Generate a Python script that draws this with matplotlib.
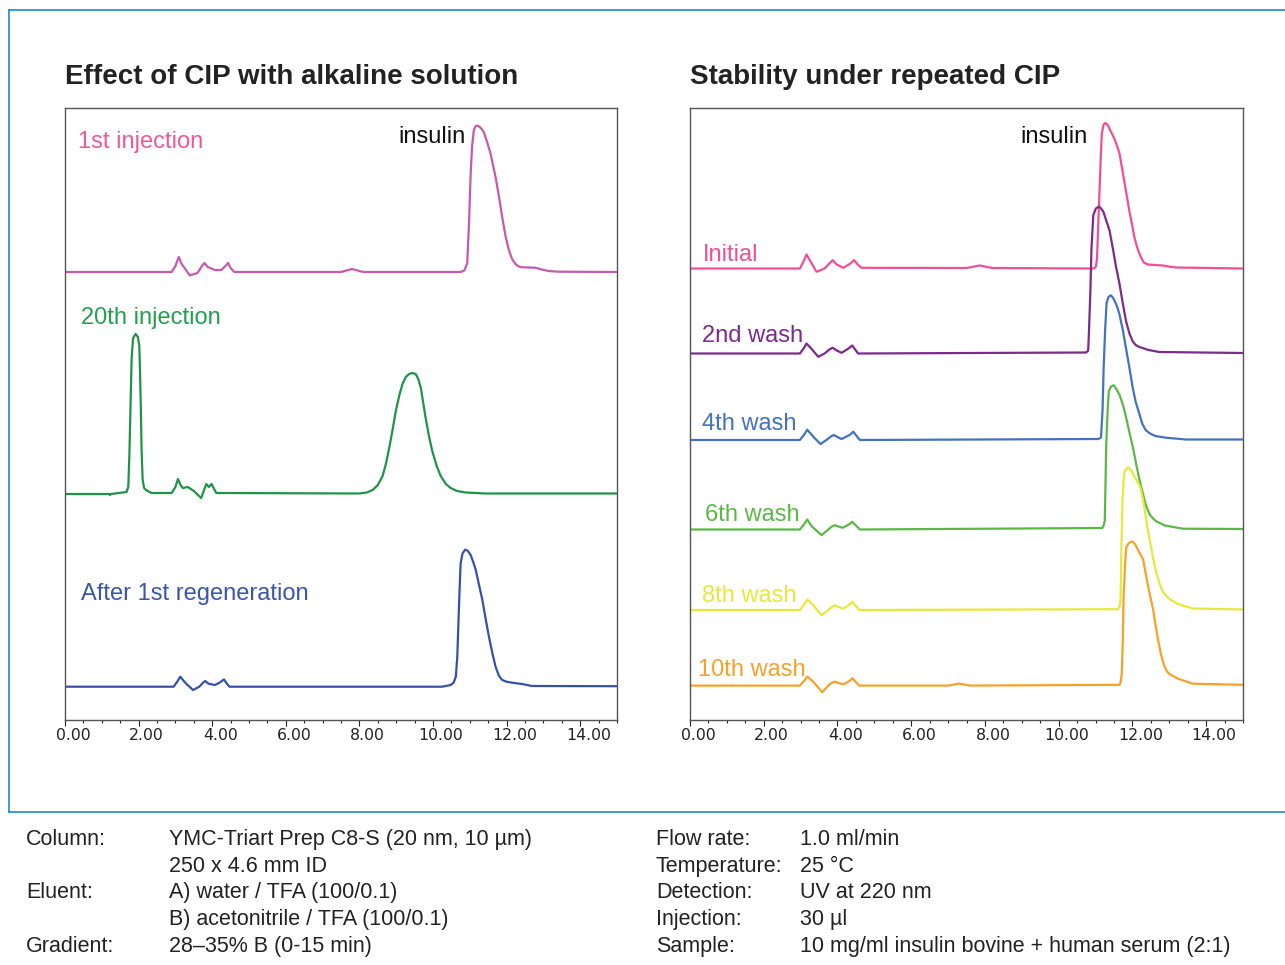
import matplotlib
matplotlib.use("Agg")
import matplotlib.pyplot as plt
from matplotlib.lines import Line2D
from matplotlib.ticker import MultipleLocator, FormatStrFormatter
from matplotlib.transforms import ScaledTranslation

W, H = 1285, 965

# ---- data: retention time (min) / signal above own baseline ----
# left panel: Effect of CIP with alkaline solution
inj1_t = [0, 2.9, 3.0, 3.09, 3.17, 3.25, 3.39, 3.6, 3.72, 3.79, 3.88, 4.07, 4.25, 4.36,
          4.43, 4.5, 4.6, 7.5, 7.8, 8.1,
          10.75, 10.85, 10.93, 10.98, 11.02, 11.06, 11.11, 11.16, 11.22, 11.30, 11.38,
          11.47, 11.56, 11.63, 11.70, 11.79, 11.88, 11.97, 12.06, 12.15, 12.24, 12.33,
          12.42, 12.6, 12.78, 12.95, 13.14, 13.4, 15.0]
inj1_y = [0, 0, 6, 15, 8, 4, -3.4, -1, 6, 9, 5, 2, 2, 6,
          9, 4, 0, 0, 3, 0,
          0, 1.5, 8.7, 50, 95, 125, 142, 146, 146.3, 144, 140,
          130, 119, 107, 95, 76, 55, 36, 22, 13, 8, 5.5,
          4.7, 4.5, 4.3, 2.5, 1, 0.3, 0]

inj20_t = [0, 1.2, 1.22, 1.25, 1.67, 1.72, 1.75, 1.78, 1.81, 1.85, 1.92, 1.98, 2.02,
           2.04, 2.06, 2.08, 2.11, 2.15, 2.20, 2.35, 2.9, 3.0, 3.07, 3.14, 3.2, 3.34,
           3.5, 3.7, 3.77, 3.84, 3.91, 3.98, 4.11, 7.99, 8.2, 8.36, 8.5, 8.63, 8.72,
           8.81, 8.90, 8.99, 9.08, 9.17, 9.26, 9.35, 9.44, 9.53, 9.60, 9.67, 9.73,
           9.80, 9.89, 9.98, 10.1, 10.21, 10.35, 10.48, 10.65, 10.89, 11.43, 15.0]
inj20_y = [0, 0, -1, 0, 2, 7, 40, 87, 135, 156, 160, 157, 148,
           120, 87, 45, 14, 6, 4, 1, 1, 7, 15, 9, 6, 7,
           3, -4, 3, 10, 7, 10, 1, 0.5, 1.5, 4, 9, 18, 30,
           46, 64, 83, 98, 110, 117, 120, 121, 120, 115, 106, 92,
           76, 58, 43, 28, 18, 10, 6, 3, 1.5, 0.5, 0.5]

regen_t = [0, 2.95, 3.05, 3.13, 3.22, 3.30, 3.48, 3.65, 3.75, 3.81, 3.9, 4.07, 4.2,
           4.32, 4.4, 4.47, 10.25, 10.48, 10.56, 10.62, 10.66, 10.69, 10.72, 10.75,
           10.80, 10.87, 10.94, 11.02, 11.09, 11.16, 11.25, 11.34, 11.43, 11.52, 11.61,
           11.70, 11.79, 11.88, 12.0, 12.15, 12.42, 12.69, 15.0]
regen_y = [0, 0, 5, 10, 6, 2.7, -3.3, 0, 4, 5.7, 3, 1.7, 4,
           7.3, 3, 0, 0, 1.7, 4, 10, 30, 63, 95, 123,
           133, 137, 136, 132, 125, 117, 102, 87, 68, 50, 34,
           20, 11, 6.7, 5, 4, 2.7, 0.7, 0.5]

# right panel: Stability under repeated CIP
initial_t = [0, 2.98, 3.08, 3.16, 3.27, 3.43, 3.65, 3.78, 3.87, 3.98, 4.16, 4.35, 4.45,
             4.55, 4.65, 7.5, 7.86, 8.2,
             10.96, 11.01, 11.04, 11.09, 11.14, 11.17, 11.22, 11.27, 11.34, 11.40, 11.47,
             11.53, 11.59, 11.65, 11.72, 11.79, 11.86, 11.92, 11.99, 12.05, 12.12, 12.19,
             12.25, 12.31, 12.42, 12.62, 12.83, 13.01, 13.19, 15.0]
initial_y = [0, 0, 7, 14, 7, -3.3, 0, 5, 8.3, 4, 0.7, 5, 8.3,
             4, 0.7, 0.5, 3, 0.5,
             0, 2, 10, 60, 110, 135, 144, 145.5, 143, 138, 133,
             128, 122, 115, 100, 85, 70, 57, 44, 32, 22, 15,
             10, 6, 4, 3.5, 3, 1.8, 1, 0]

wash2_t = [0, 2.98, 3.08, 3.16, 3.27, 3.48, 3.65, 3.78, 3.87, 3.98, 4.11, 4.30, 4.40,
           4.48, 4.56, 10.74, 10.80, 10.82, 10.86, 10.89, 10.94, 11.01, 11.09, 11.15,
           11.21, 11.29, 11.38, 11.47, 11.55, 11.65, 11.74, 11.83, 11.92, 12.01, 12.09,
           12.19, 12.44, 12.73, 15.0]
wash2_y = [0, 0, 5, 10, 5.7, -3.3, 0, 4, 5.7, 3, 0.7, 5, 8,
           4, 0, 1, 2.7, 20, 62, 105, 138.5, 145, 147, 145,
           142, 133, 123, 105, 88, 69.6, 50, 32, 19.9, 12, 8.5,
           6.5, 3.5, 1.5, 0.5]

wash4_t = [0, 2.98, 3.09, 3.18, 3.36, 3.54, 3.7, 3.82, 3.90, 4.0, 4.11, 4.33, 4.43,
           4.52, 4.61, 11.07, 11.13, 11.15, 11.19, 11.22, 11.26, 11.30, 11.35, 11.41,
           11.47, 11.52, 11.59, 11.65, 11.74, 11.83, 11.92, 12.01, 12.09, 12.19, 12.27,
           12.36, 12.46, 12.62, 12.91, 13.45, 15.0]
wash4_y = [0, 0, 5, 10.3, 2.7, -4, 0, 3.5, 5, 3, 1, 5, 8.3,
           4, 0, 1, 2, 3, 30, 72, 110, 137, 143, 144.7,
           142.5, 139, 133, 125.5, 110, 91, 72, 52, 38, 26, 16,
           10, 6.9, 4, 2.3, 0.5, 0.5]

wash6_t = [0, 2.98, 3.09, 3.18, 3.30, 3.57, 3.75, 3.85, 3.93, 4.03, 4.14, 4.31, 4.40,
           4.5, 4.61, 11.18, 11.22, 11.25, 11.27, 11.29, 11.33, 11.36, 11.42, 11.49,
           11.57, 11.65, 11.75, 11.83, 11.92, 12.02, 12.10, 12.19, 12.29, 12.37, 12.47,
           12.56, 12.64, 12.88, 13.37, 15.0]
wash6_y = [0, 0, 5, 10, 3.3, -5.7, 0, 3, 4.3, 3, 1.7, 5, 7.7,
           4, 0, 1.5, 4, 8.4, 45, 85, 120, 138.6, 143, 144.3,
           140, 134.7, 124, 111.8, 97, 81, 65.8, 50, 35, 23.7, 15,
           11, 8.4, 4, 0.8, 0.5]

wash8_t = [0, 2.98, 3.09, 3.19, 3.36, 3.57, 3.75, 3.85, 3.93, 4.03, 4.16, 4.31, 4.40,
           4.5, 4.59, 11.61, 11.66, 11.68, 11.70, 11.73, 11.76, 11.79, 11.84, 11.89,
           11.98, 12.06, 12.14, 12.21, 12.29, 12.36, 12.43, 12.51, 12.58, 12.66, 12.75,
           12.83, 12.92, 13.02, 13.23, 13.65, 15.0]
wash8_y = [0, 0, 5, 10.7, 4, -5.3, 0, 3, 4.7, 3, 1.3, 5, 8.3,
           4, 0, 0.8, 4, 12, 60, 108, 130, 138.6, 141.5, 142.4,
           139, 133, 128, 123.4, 110, 94, 77.5, 62, 48, 35.6, 25,
           18, 14, 10.7, 6, 1.5, 0.5]

wash10_t = [0, 2.98, 3.09, 3.18, 3.34, 3.59, 3.75, 3.85, 3.93, 4.03, 4.16, 4.32, 4.41,
            4.5, 4.59, 7.0, 7.3, 7.6, 11.65, 11.68, 11.71, 11.74, 11.76, 11.80, 11.83,
            11.90, 12.00, 12.08, 12.15, 12.22, 12.29, 12.37, 12.46, 12.56, 12.63, 12.70,
            12.78, 12.86, 12.94, 13.01, 13.23, 13.64, 15.0]
wash10_y = [0, 0, 4.5, 9, 4, -6.7, 0, 3, 4, 2.5, 1.3, 4.5, 7.3,
            3.5, 0, 0, 2, 0, 0.8, 3, 11.5, 45, 88, 120, 137.8,
            142.5, 144.2, 141, 135.8, 131, 126.3, 110, 93, 76.5, 60, 45,
            30.6, 20, 14, 11.5, 7, 1.9, 0.8]

xticks = [0, 2, 4, 6, 8, 10, 12, 14]

left_traces = [
    ("1st injection", inj1_t, inj1_y, "#c65aab", "#ec5a9c", 448),
    ("20th injection", inj20_t, inj20_y, "#1f9448", "#23a04d", 226),
    ("After 1st regeneration", regen_t, regen_y, "#3652a8", "#3a56a8", 33.3),
]
right_traces = [
    ("Initial", initial_t, initial_y, "#ee4f98", 451.5),
    ("2nd wash", wash2_t, wash2_y, "#7c2a8c", 366.5),
    ("4th wash", wash4_t, wash4_y, "#4272c0", 280),
    ("6th wash", wash6_t, wash6_y, "#5bb846", 190.5),
    ("8th wash", wash8_t, wash8_y, "#e8e83c", 110),
    ("10th wash", wash10_t, wash10_y, "#f7a12a", 34.4),
]
# label anchors (left x in min, y centre in axes px)
left_label_pos = [(0.35, 578), (0.43, 402), (0.43, 126)]
right_label_pos = [(0.35, 465), (0.33, 384), (0.33, 296), (0.41, 205), (0.33, 124), (0.22, 50)]

plt.rcParams['font.family'] = ['Liberation Sans', 'DejaVu Sans']

fig = plt.figure(figsize=(W / 100, H / 100), dpi=100)


def make_axes(x0, x1):
    ax = fig.add_axes([x0 / W, 1 - 720 / H, (x1 - x0) / W, 612 / H])
    ax.set_xlim(0, 15)
    ax.set_ylim(0, 612)
    ax.set_yticks([])
    ax.set_xticks(xticks)
    ax.xaxis.set_major_formatter(FormatStrFormatter("%.2f"))
    ax.xaxis.set_minor_locator(MultipleLocator(0.5))
    ax.tick_params(axis='x', which='major', direction='out', length=4, width=0.8,
                   labelsize=11.3, pad=2, colors='#222222')
    ax.tick_params(axis='x', which='minor', direction='out', length=2.5, width=0.8,
                   colors='#222222')
    for lab in ax.get_xticklabels():
        lab.set_fontfamily('DejaVu Sans')
        lab.set_transform(lab.get_transform() + ScaledTranslation(8 / 100, 0, fig.dpi_scale_trans))
    for s in ax.spines.values():
        s.set_color('#555555')
        s.set_linewidth(1.0)
    return ax


axL = make_axes(65, 617)
axR = make_axes(690, 1243)

for (name, t, y, lc, tc, off), (lx, ly) in zip(left_traces, left_label_pos):
    axL.plot(t, [v + off for v in y], color=lc, lw=1.6, solid_joinstyle='round')
    axL.text(lx, ly, name, color=tc, fontsize=17, va='center', ha='left')
axL.text(9.05, 583, "insulin", color='#111111', fontsize=17, va='center', ha='left')

for (name, t, y, c, off), (lx, ly) in zip(right_traces, right_label_pos):
    axR.plot(t, [v + off for v in y], color=c, lw=1.6, solid_joinstyle='round')
    axR.text(lx, ly, name, color=c, fontsize=17, va='center', ha='left')
axR.text(8.97, 583, "insulin", color='#111111', fontsize=17, va='center', ha='left')

fig.text(65 / W, 1 - 84 / H, "Effect of CIP with alkaline solution", fontsize=20,
         fontweight='bold', color='#222222', va='baseline', ha='left')
fig.text(690 / W, 1 - 84 / H, "Stability under repeated CIP", fontsize=20,
         fontweight='bold', color='#222222', va='baseline', ha='left')

# outer frame
frame_c = '#1f8ad4'
fig.add_artist(Line2D([9 / W, 1], [1 - 10 / H, 1 - 10 / H], color=frame_c, lw=1.2))
fig.add_artist(Line2D([9 / W, 9 / W], [1 - 10 / H, 1 - 812 / H], color=frame_c, lw=1.2))
fig.add_artist(Line2D([9 / W, 1], [1 - 812 / H, 1 - 812 / H], color=frame_c, lw=1.2))

# conditions table
cond_left = [("Column:", "YMC-Triart Prep C8-S (20 nm, 10 µm)"),
             ("", "250 x 4.6 mm ID"),
             ("Eluent:", "A) water / TFA (100/0.1)"),
             ("", "B) acetonitrile / TFA (100/0.1)"),
             ("Gradient:", "28–35% B (0-15 min)")]
cond_right = [("Flow rate:", "1.0 ml/min"),
              ("Temperature:", "25 °C"),
              ("Detection:", "UV at 220 nm"),
              ("Injection:", "30 µl"),
              ("Sample:", "10 mg/ml insulin bovine + human serum (2:1)")]
row_y = [845, 872, 898, 925, 952]
for i, yy in enumerate(row_y):
    for (k, v), xk, xv in ((cond_left[i], 26, 169), (cond_right[i], 656, 800)):
        fig.text(xk / W, 1 - yy / H, k, fontsize=15.5, color='#222222', va='baseline')
        fig.text(xv / W, 1 - yy / H, v, fontsize=15.5, color='#222222', va='baseline')

fig.savefig("out.png", dpi=100)
